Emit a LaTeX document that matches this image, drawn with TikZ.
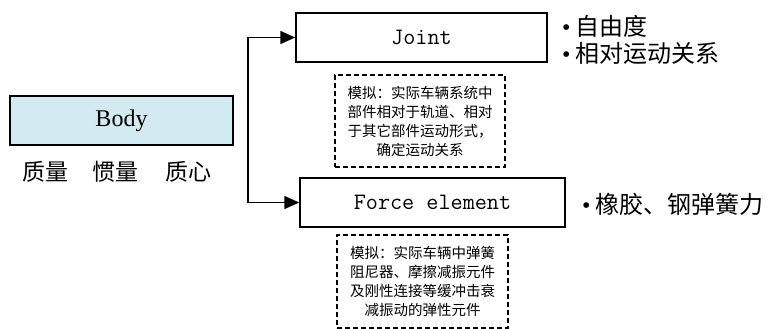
\documentclass[tikz,border=0pt]{standalone}
\usepackage{fontspec}
\setmainfont{Liberation Serif}
\newfontfamily\cjk{Noto Sans CJK SC}
\usetikzlibrary{arrows.meta, positioning}
\definecolor{BodyCyan}{HTML}{D2EAF0}
\newcommand{\itemdot}{{\rmfamily\textbullet}\hspace{5pt}}

\begin{document}
\begin{tikzpicture}[x=1pt, y=-1pt,
  blockbox/.style={draw, line width=1.5pt, minimum height=49pt, inner sep=0pt},
  notebox/.style={draw, line width=1.2pt, dash pattern=on 5pt off 3pt, inner sep=0pt, align=center, font=\cjk\fontsize{14.5}{19}\selectfont},
  cjklabel/.style={font=\cjk\fontsize{23}{23}\selectfont},
  bullettext/.style={anchor=west, align=left, inner sep=0pt, font=\cjk\fontsize{24}{27}\selectfont},
  arr/.style={line width=1.5pt, -{Triangle[length=15pt,width=13pt]}}
]
\useasboundingbox (0,0) rectangle (771,329);
% --- Body and its properties ---
\node[blockbox, fill=BodyCyan, minimum width=223pt, font=\fontsize{24}{24}\selectfont] (body) at (121.5,120.5) {Body};
\node[cjklabel] (massLbl) at (45,172) {质量};
\node[cjklabel] (inertiaLbl) at (115,172) {惯量};
\node[cjklabel] (cogLbl) at (188,172) {质心};
% --- Joint ---
\node[blockbox, minimum width=251pt, font=\ttfamily\fontsize{23.5}{23.5}\selectfont] (joint) at (421.5,37.5) {Joint};
\node[notebox, minimum width=170pt, minimum height=92pt] (jointNote) at (420,121)
  {模拟：实际车辆系统中\\部件相对于轨道、相对\\于其它部件运动形式，\\确定运动关系};
\node[bullettext] (jointItems) at (562,40) {\itemdot 自由度\\\itemdot 相对运动关系};
% --- Force element ---
\node[blockbox, minimum width=265pt, font=\ttfamily\fontsize{23.5}{23.5}\selectfont] (force) at (432.5,202.5) {Force element};
\node[notebox, minimum width=171pt, minimum height=93pt] (forceNote) at (422.5,281.5)
  {模拟：实际车辆中弹簧\\阻尼器、摩擦减振元件\\及刚性连接等缓冲击衰\\减振动的弹性元件};
\node[bullettext] (forceItems) at (582,204) {\itemdot 橡胶、钢弹簧力};
% --- Connectors ---
\coordinate (fork) at (248,37.5);
\draw[arr] (fork) -- (joint.west);
\draw[arr] (fork) |- (force.west);
\end{tikzpicture}
\end{document}
